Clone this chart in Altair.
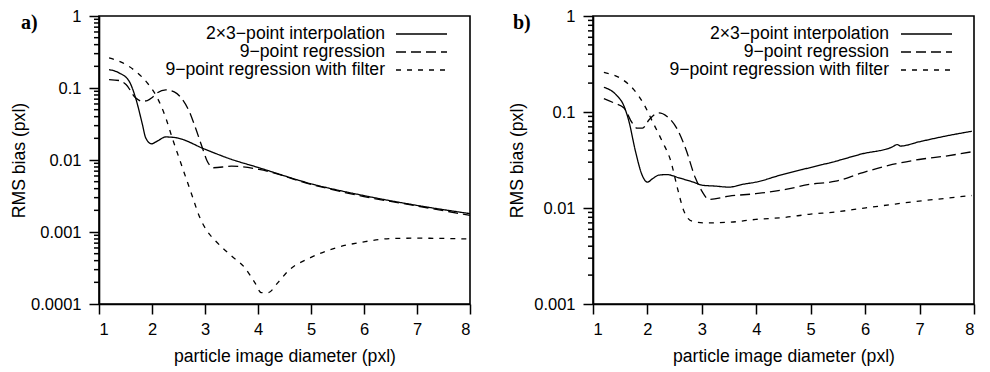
import altair as alt
import pandas as pd

SERIES = ["2×3−point interpolation", "9−point regression", "9−point regression with filter"]
DASHES = [[1, 0], [10, 5], [5, 6]]
X_TICKS = [1, 2, 3, 4, 5, 6, 7, 8]

# ---- panel a) ----
a_interp_x = [1.19, 1.38, 1.57, 1.69, 1.82, 1.88, 1.99, 2.1, 2.26, 2.45, 3.01, 3.45, 4.02, 4.99, 6.0, 7.0, 8.0]
a_interp_y = [0.18, 0.162, 0.124, 0.073, 0.031, 0.0204, 0.0168, 0.0183, 0.0209, 0.0204, 0.0140, 0.0105, 0.0078, 0.0047, 0.0032, 0.00234, 0.0018]

a_regr_x = [1.19, 1.38, 1.51, 1.69, 1.82, 1.91, 2.01, 2.1, 2.26, 2.42, 2.55, 2.7, 2.82, 2.95, 3.04, 3.16, 3.5, 4.02, 5.0, 6.0, 7.0, 8.0]
a_regr_y = [0.131, 0.127, 0.112, 0.073, 0.0656, 0.067, 0.0746, 0.0855, 0.0944, 0.0883, 0.073, 0.0478, 0.028, 0.0148, 0.0097, 0.0078, 0.0082, 0.0074, 0.0046, 0.0031, 0.0023, 0.0017]

a_filt_x = [1.19, 1.45, 1.69, 1.91, 2.1, 2.26, 2.38, 2.51, 2.64, 2.77, 2.89, 3.04, 3.2, 3.5, 3.75, 3.94, 4.06, 4.19, 4.38, 4.57, 4.99, 5.46, 6.0, 6.5, 7.0, 8.0]
a_filt_y = [0.262, 0.223, 0.171, 0.118, 0.073, 0.0385, 0.0204, 0.0107, 0.00566, 0.003, 0.00167, 0.00103, 0.00075, 0.000465, 0.00032, 0.000198, 0.000144, 0.000144, 0.0002, 0.000288, 0.00044, 0.0006, 0.00073, 0.00081, 0.00082, 0.0008]

# ---- panel b) ----
b_interp_x = [1.2, 1.42, 1.57, 1.66, 1.78, 1.91, 2.0, 2.09, 2.21, 2.36, 2.58, 2.88, 3.0, 3.25, 3.5, 3.74, 3.99, 4.48, 4.97, 5.46, 5.94, 6.5, 6.59, 6.65, 6.99, 7.47, 7.96]
b_interp_y = [0.181, 0.152, 0.115, 0.080, 0.039, 0.0215, 0.0186, 0.0201, 0.022, 0.0223, 0.0206, 0.0183, 0.0173, 0.0169, 0.0165, 0.0176, 0.0186, 0.0223, 0.0262, 0.0307, 0.0366, 0.0433, 0.0458, 0.0442, 0.0489, 0.056, 0.063]

b_regr_x = [1.2, 1.39, 1.57, 1.72, 1.81, 1.91, 2.03, 2.21, 2.36, 2.55, 2.7, 2.88, 3.0, 3.13, 3.5, 3.99, 4.54, 4.97, 5.46, 5.94, 6.5, 6.99, 7.47, 7.96]
b_regr_y = [0.138, 0.124, 0.110, 0.077, 0.068, 0.068, 0.083, 0.098, 0.090, 0.066, 0.042, 0.0206, 0.015, 0.0123, 0.0133, 0.0141, 0.0156, 0.0176, 0.019, 0.0232, 0.0284, 0.032, 0.0347, 0.0385]

b_filt_x = [1.2, 1.54, 1.75, 1.94, 2.09, 2.27, 2.43, 2.55, 2.67, 2.82, 3.07, 3.5, 3.99, 4.54, 4.97, 5.46, 5.94, 6.5, 6.99, 7.47, 7.96]
b_filt_y = [0.259, 0.218, 0.171, 0.119, 0.080, 0.0497, 0.0307, 0.0162, 0.0093, 0.0073, 0.0070, 0.0071, 0.0076, 0.0080, 0.0086, 0.0091, 0.0099, 0.0109, 0.0118, 0.0126, 0.0135]

FONT = "Liberation Sans"
TXT = 17.6
HEIGHT = 288


def frame(pairs):
    rows = []
    for name, (xs, ys) in zip(SERIES, pairs):
        for x, y in zip(xs, ys):
            rows.append({"series": name, "d": x, "bias": y})
    return pd.DataFrame(rows)


def panel(df, ymin_exp, width, tag, title_pad, text_x, sym_x1, sym_x2, tag_x):
    major = [10.0 ** e for e in range(ymin_exp, 1)]
    minor = [k * 10.0 ** e for e in range(ymin_exp, 0) for k in range(2, 10)]
    yscale = alt.Scale(type="log", domain=[10.0 ** ymin_exp, 1], nice=False)
    xscale = alt.Scale(domain=[1, 8], nice=False, zero=False)
    xaxis = alt.Axis(values=X_TICKS, format="d", title="particle image diameter (pxl)",
                     ticks=True, tickSize=10, tickColor="black", tickWidth=1.5,
                     labelPadding=7, titlePadding=10, grid=False)
    yaxis = alt.Axis(values=major, format="~g", ticks=True, tickSize=10, tickColor="black", tickWidth=1.5,
                     labelOverlap=False, labelPadding=8, orient="left",
                     title="RMS bias (pxl)", titlePadding=title_pad, grid=False)
    lines = alt.Chart(df).mark_line(interpolate="monotone", color="black", strokeWidth=1.3).encode(
        x=alt.X("d:Q", scale=xscale, axis=xaxis),
        y=alt.Y("bias:Q", scale=yscale, axis=yaxis),
        strokeDash=alt.StrokeDash("series:N", scale=alt.Scale(domain=SERIES, range=DASHES), legend=None),
    )
    # minor tick marks of the log axis, drawn as rules through the y scale
    y_minor = alt.Chart(pd.DataFrame({"v": minor})).mark_rule(
        color="#000000", strokeWidth=1.5, opacity=1, clip=False).encode(
        y=alt.Y("v:Q", scale=yscale, axis=yaxis), x=alt.value(-5), x2=alt.value(0))
    layers = [lines, y_minor]
    for i, name in enumerate(SERIES):
        ypos = 18 + 18 * i
        src = pd.DataFrame({"t": [name]})
        layers.append(alt.Chart(src).mark_text(align="right", baseline="middle", font=FONT,
                                               fontSize=TXT, color="black").encode(
            x=alt.value(text_x), y=alt.value(ypos), text="t:N"))
        layers.append(alt.Chart(src).mark_rule(color="black", strokeWidth=1.3, strokeDash=DASHES[i]).encode(
            x=alt.value(sym_x1), x2=alt.value(sym_x2), y=alt.value(ypos)))
    layers.append(alt.Chart(pd.DataFrame({"t": [tag]})).mark_text(
        align="left", baseline="alphabetic", font="Liberation Serif", fontWeight="bold",
        fontSize=20, color="black").encode(x=alt.value(tag_x), y=alt.value(13), text="t:N"))
    return alt.layer(*layers).properties(width=width, height=HEIGHT)


pa = panel(frame([(a_interp_x, a_interp_y), (a_regr_x, a_regr_y), (a_filt_x, a_filt_y)]),
           -4, 371, "a)", 2, 286, 297, 348, -78)
pb = panel(frame([(b_interp_x, b_interp_y), (b_regr_x, b_regr_y), (b_filt_x, b_filt_y)]),
           -3, 381, "b)", 7, 296, 308, 359, -80)

chart = alt.hconcat(pa, pb, spacing=33).properties(
    padding={"left": 1, "top": -1, "right": 0, "bottom": 0}
).configure_view(
    stroke="black", strokeWidth=1.6, clip=False
).configure_axis(
    domainColor="black", domainWidth=1.6, ticks=True, tickColor="black", tickWidth=1.5,
    labelFont=FONT, labelFontSize=16.5, labelColor="black",
    titleFont=FONT, titleFontSize=TXT, titleFontWeight="normal", titleColor="black"
)

chart.save("out.html", embed_options={"renderer": "svg", "actions": False})
